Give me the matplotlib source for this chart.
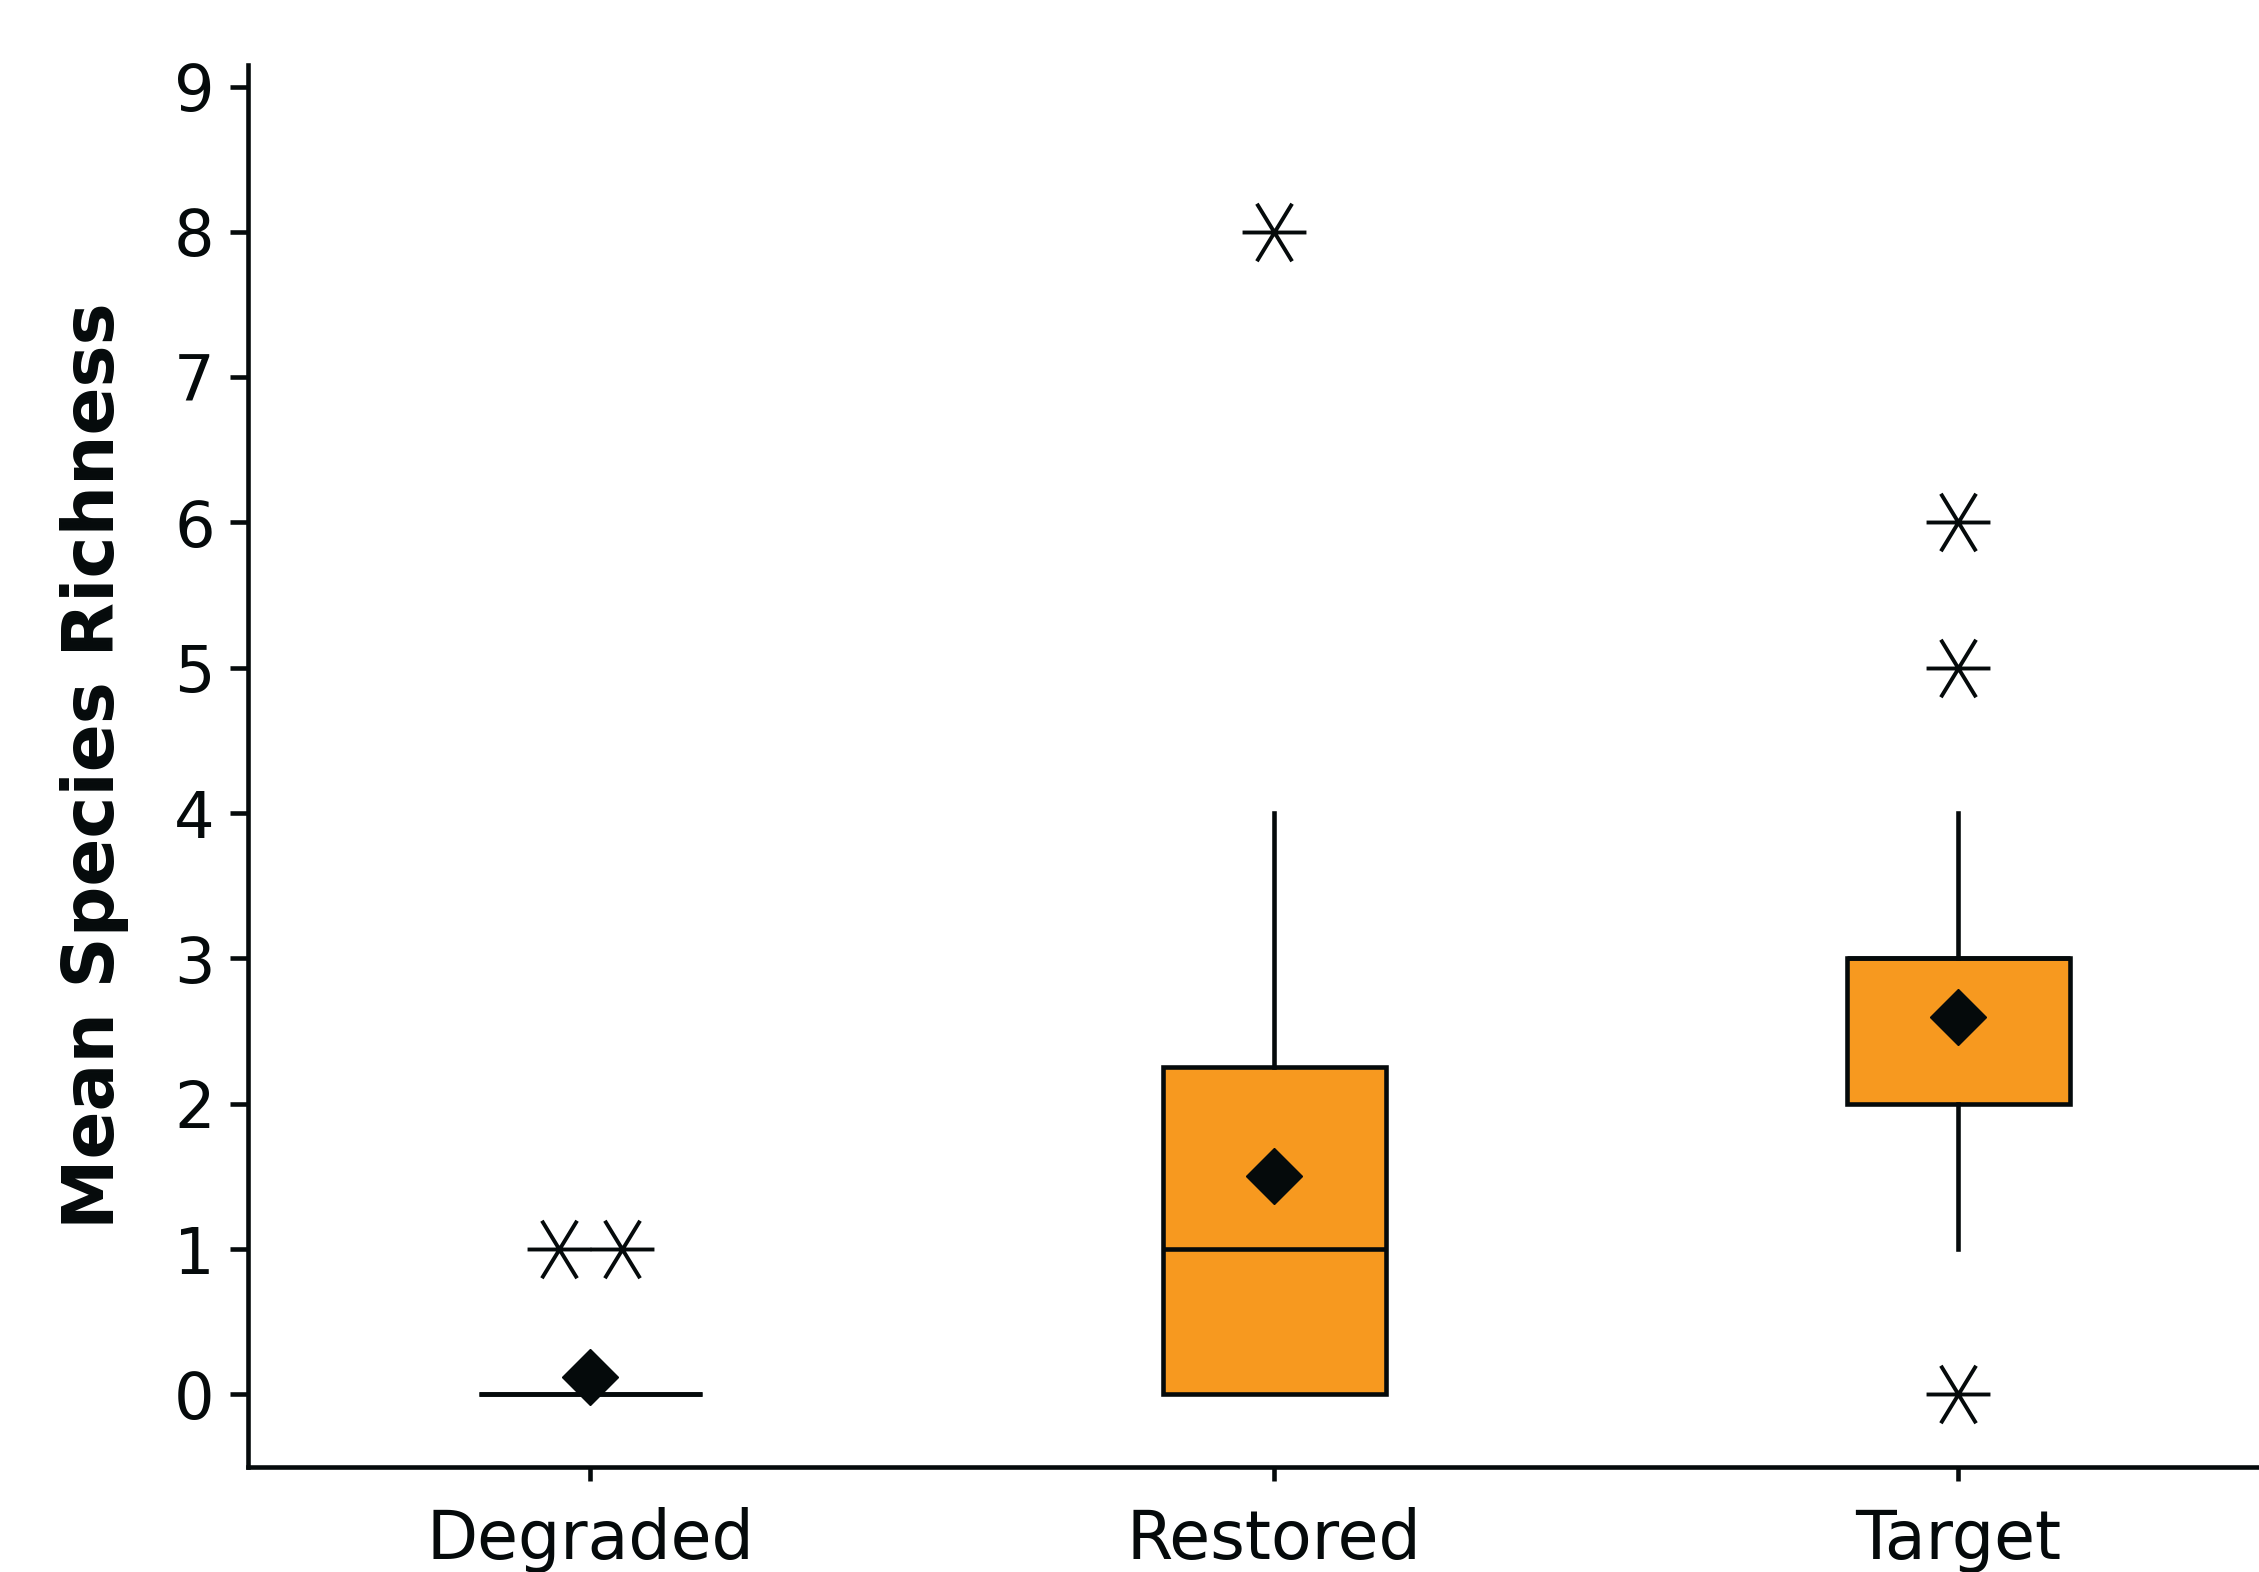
import numpy as np
import matplotlib
matplotlib.use("Agg")
import matplotlib.pyplot as plt
from matplotlib.path import Path

# box summary per group
groups = ["Degraded", "Restored", "Target"]
q1 = [0, 0, 2]
med = [0, 1, 3]
q3 = [0, 2.25, 3]
whis_lo = [0, 0, 1]
whis_hi = [0, 4, 4]
means = [0.12, 1.5, 2.6]
outliers = [[1, 1], [8], [6, 5, 0]]

orange = "#F7991F"
ink = "#050A0B"
lw = 3.3

# asterisk-like outlier marker (X with a horizontal bar)
star = Path([(-1, 0), (1, 0), (-0.55, -0.9), (0.55, 0.9), (-0.55, 0.9), (0.55, -0.9)],
            [Path.MOVETO, Path.LINETO, Path.MOVETO, Path.LINETO, Path.MOVETO, Path.LINETO])

fig = plt.figure(figsize=(22.59, 15.72), dpi=100)
ax = fig.add_axes([0.1098, 0.0668, 0.8902, 0.892])

pos = np.arange(1, len(groups) + 1)
stats = []
for i, g in enumerate(groups):
    stats.append(dict(label=g, q1=q1[i], med=med[i], q3=q3[i],
                      whislo=whis_lo[i], whishi=whis_hi[i], fliers=[], mean=means[i]))

ax.bxp(stats, positions=pos, widths=0.326, patch_artist=True, showcaps=False,
       showfliers=False, showmeans=False,
       boxprops=dict(facecolor=orange, edgecolor=ink, linewidth=lw),
       medianprops=dict(color=ink, linewidth=lw),
       whiskerprops=dict(color=ink, linewidth=lw))

# means as diamonds
ax.plot(pos, means, ls="none", marker="D", ms=29, color=ink, zorder=5)

# outliers; spread duplicates sideways a bit
for p, vals in zip(pos, outliers):
    vals = np.array(vals, dtype=float)
    xs = np.full(len(vals), float(p))
    for v in np.unique(vals):
        idx = np.where(vals == v)[0]
        if len(idx) > 1:
            xs[idx] = p + (np.arange(len(idx)) - (len(idx) - 1) / 2) * 0.092
    ax.plot(xs, vals, ls="none", marker=star, ms=46, mew=2.8,
            mec=ink, mfc="none", zorder=5)

ax.set_xlim(0.5, 3.44)
ax.set_ylim(-0.5, 9.15)
ax.set_yticks(range(0, 10))
ax.set_xticks(pos)
ax.set_xticklabels(groups)

for s in ["top", "right"]:
    ax.spines[s].set_visible(False)
for s in ["left", "bottom"]:
    ax.spines[s].set_linewidth(lw)
    ax.spines[s].set_color(ink)

ax.tick_params(axis="y", length=13, width=lw, labelsize=46, pad=11, colors=ink)
ax.tick_params(axis="x", length=10, width=lw, labelsize=48, pad=19, colors=ink)
ax.set_ylabel("Mean Species Richness", fontsize=51, fontweight="bold", color=ink)
ax.yaxis.set_label_coords(-0.059, 0.5)

fig.savefig("out.png", dpi=100)
